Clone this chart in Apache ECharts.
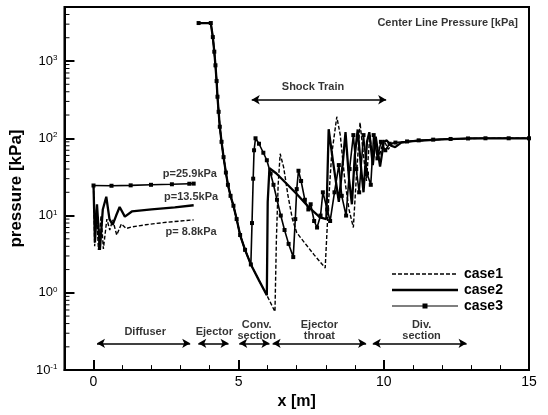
<!DOCTYPE html>
<html><head><meta charset="utf-8">
<script src="https://cdn.jsdelivr.net/npm/echarts@6/dist/echarts.min.js"></script>
<style>html,body{margin:0;padding:0;background:#fff}#c{width:548px;height:415px}</style>
</head><body><div id="c"></div>
<script>
// ---------- data ----------
const xTickValues = [0, 5, 10, 15];
const yMinorTickValues = [0.2,0.3,0.4,0.5,0.6,0.7,0.8,0.9,2,3,4,5,6,7,8,9,20,30,40,50,60,70,80,90,200,300,400,500,600,700,800,900,2000,3000,4000];

// common ejector/nozzle descent (all cases)
const descent = [[3.62,3100],[4.04,3100],[4.11,2040],[4.16,1320],[4.2,880],[4.24,550],[4.27,345],[4.31,220],[4.35,141],[4.41,90],[4.48,57],[4.56,36],[4.63,25],[4.72,18],[4.82,13.4],[4.93,9],[5.05,5.6],[5.22,3.6],[5.42,2.33]];

const case1Diffuser = [[0,25],[0.04,4],[0.1,12],[0.17,3.6],[0.26,10],[0.34,3.7],[0.46,9],[0.56,6.5],[0.66,8.8],[0.8,5.6],[0.96,7.8],[1.12,6.8],[1.3,7.1],[1.8,7.6],[2.4,8.1],[3.0,8.5],[3.45,8.8]];
const case1Main = [[5.7,1.45],[5.97,0.93],[6.25,0.57],[6.3,5],[6.36,25],[6.43,63],[6.55,42],[6.7,18],[6.85,9],[7.0,6],[7.3,4.3],[7.6,3.1],[7.98,2.1],[8.08,12],[8.2,60],[8.38,190],[8.5,110],[8.65,30],[8.8,12],[8.95,7],[9.05,30],[9.18,160],[9.3,60],[9.4,28],[9.52,110],[9.62,50],[9.73,95],[9.85,60],[10.0,95],[10.15,72],[10.3,86],[10.6,89],[11,92],[12,97],[13,99.5],[14,100],[15,100]];

const case2Diffuser = [[0,25],[0.05,4.5],[0.12,14],[0.22,3.6],[0.32,12],[0.44,17.5],[0.55,9],[0.66,7.6],[0.78,10],[0.9,12.9],[1.08,9.7],[1.32,11.3],[2.0,12],[2.8,12.8],[3.45,13.6]];
const case2Main = [[5.7,1.45],[5.97,0.93],[6.0,15],[6.06,41],[6.3,35],[6.6,27],[7.0,19],[7.4,13],[7.8,9.5],[8.02,9],[8.1,131],[8.25,50],[8.45,15],[8.6,55],[8.68,120],[8.8,30],[8.9,14],[9.0,60],[9.1,130],[9.22,40],[9.3,20],[9.42,90],[9.5,120],[9.62,45],[9.72,105],[9.87,43],[10.0,90],[10.1,94],[10.25,80],[10.39,77],[10.6,88],[11,92],[12,97],[13,99.5],[14,100],[15,100]];

const case3Diffuser = [[0,24.5],[0.62,24.3],[1.28,24.6],[1.98,25],[2.7,25.4],[3.3,25.8],[3.45,25.9]];
const case3Main = [[5.46,8],[5.5,30],[5.53,70],[5.58,100],[5.7,85],[5.85,65],[5.97,52],[6.1,35],[6.2,25],[6.32,16],[6.45,10],[6.58,6.5],[6.72,4.3],[6.88,2.9],[6.95,9],[7.0,22],[7.06,38],[7.15,28],[7.28,16],[7.4,12],[7.48,14],[7.6,8.5],[7.7,7],[7.82,10],[7.9,20],[8.05,12],[8.15,8.5],[8.3,20],[8.45,45],[8.55,18],[8.7,10],[8.82,40],[8.95,110],[9.05,40],[9.15,20],[9.3,110],[9.42,35],[9.55,25],[9.65,110],[9.78,55],[9.9,90],[10.05,70],[10.2,85],[10.4,88],[10.8,91],[11.2,94],[11.7,96],[12.3,98],[12.9,99.5],[13.5,100],[14.3,100],[15,100]];

// annotations: [x, y, text]
const textNotes = [
  [3.32, 35, 'p=25.9kPa'],
  [3.36, 17.6, 'p=13.5kPa'],
  [3.36, 6.2, 'p= 8.8kPa'],
  [7.56, 460, 'Shock Train'],
  [1.78, 0.315, 'Diffuser'],
  [4.16, 0.315, 'Ejector'],
  [5.62, 0.33, 'Conv.\nsection'],
  [7.78, 0.33, 'Ejector\nthroat'],
  [11.3, 0.33, 'Div.\nsection']
];
// double arrows: [x1, x2, y]
const arrowSpans = [
  [5.45, 10.08, 315],
  [0.12, 3.33, 0.222],
  [3.61, 4.65, 0.222],
  [5.02, 6.06, 0.222],
  [6.17, 9.39, 0.222],
  [9.62, 12.85, 0.222]
];

const case1 = case1Diffuser.concat([[3.53, null]], descent, case1Main);
const case2 = case2Diffuser.concat([[3.53, null]], descent, case2Main);
const case3 = case3Diffuser.concat([[3.53, null]], descent, case3Main);

// ---------- legend icons ----------
function iconPath(parts) {
  return 'path://M0 0L0.01 0L0 0.01Z M66 8L65.99 8L66 7.99Z ' + parts.map(r =>
    `M${r[0]} ${r[1]}L${r[2]} ${r[1]}L${r[2]} ${r[3]}L${r[0]} ${r[3]}Z`).join(' ');
}
const dashParts = [];
for (let i = 0; i < 11; i++) dashParts.push([i * 6, 3.3, i * 6 + 4, 4.7]);
const icon1 = iconPath(dashParts);
const icon2 = iconPath([[0, 2.7, 66, 5.3]]);
const icon3 = iconPath([[0, 3.4, 66, 4.6], [30.5, 1.5, 35.5, 6.5]]);

const FONT = 'Liberation Sans, Arial, Helvetica, sans-serif';
const chart = echarts.init(document.getElementById('c'), null, {renderer: 'canvas'});
const X_MIN = -1, X_MAX = 15;

chart.setOption({
  animation: false,
  backgroundColor: '#fff',
  textStyle: {fontFamily: FONT, color: '#000'},
  grid: {left: 64, right: 19, top: 7, bottom: 37, show: true, borderColor: '#000', borderWidth: 2, containLabel: false},
  legend: {
    orient: 'vertical', left: 387, top: 261, itemWidth: 66, itemHeight: 8, itemGap: 0,
    selectedMode: false,
    itemStyle: {borderWidth: 0},
    textStyle: {fontFamily: FONT, fontWeight: 'bold', fontSize: 14, color: '#000', lineHeight: 16, padding: [0, 0, 0, 1]},
    data: [{name: 'case1', icon: icon1}, {name: 'case2', icon: icon2}, {name: 'case3', icon: icon3}]
  },
  xAxis: [{
    type: 'value', min: X_MIN, max: X_MAX, position: 'bottom',
    axisLine: {show: true, onZero: false, lineStyle: {color: '#000', width: 2}},
    axisTick: {show: true, inside: true, length: 10, customValues: xTickValues, lineStyle: {color: '#000', width: 2}},
    axisLabel: {show: true, customValues: xTickValues, fontSize: 14, color: '#000', margin: 5, fontFamily: FONT},
    splitLine: {show: false},
    name: 'x [m]', nameLocation: 'middle', nameGap: 22,
    nameTextStyle: {fontFamily: FONT, fontWeight: 'bold', fontSize: 16, color: '#000'}
  }, {
    type: 'value', min: X_MIN, max: X_MAX, interval: 1, position: 'bottom',
    axisLine: {show: false, onZero: false},
    axisTick: {show: true, inside: true, length: 5, lineStyle: {color: '#000', width: 1}},
    axisLabel: {show: false},
    splitLine: {show: false}
  }],
  yAxis: {
    type: 'log', logBase: 10, min: 0.1, max: 5000,
    axisLine: {show: true, onZero: false, lineStyle: {color: '#000', width: 2}},
    axisTick: {show: true, inside: true, length: 10, lineStyle: {color: '#000', width: 2}},
    axisLabel: {
      fontFamily: FONT, color: '#000', margin: 7,
      formatter: v => {
        const l = Math.log10(v), e = Math.round(l);
        if (Math.abs(l - e) > 1e-6) return '';
        return '{b|10}{s|' + e + '}';
      },
      rich: {b: {fontSize: 13, fontFamily: FONT, color: '#000'}, s: {fontSize: 8, fontFamily: FONT, color: '#000', verticalAlign: 'top', padding: [0, 0, 6, 0]}}
    },
    splitLine: {show: false},
    name: 'pressure [kPa]', nameLocation: 'middle', nameGap: 31, nameRotate: 90,
    nameTextStyle: {fontFamily: FONT, fontWeight: 'bold', fontSize: 17, color: '#000'}
  },
  series: [
    {name: 'case1', type: 'line', data: case1, showSymbol: false, symbol: 'none', color: '#000', silent: true, z: 3,
     lineStyle: {color: '#000', width: 1.4, type: [4, 2]}},
    {name: 'case2', type: 'line', data: case2, showSymbol: false, symbol: 'none', color: '#000', silent: true, z: 4,
     lineStyle: {color: '#000', width: 2.3}},
    {name: 'case3', type: 'line', data: case3, showSymbol: true, symbol: 'rect', symbolSize: 4, color: '#000', silent: true, z: 5,
     lineStyle: {color: '#000', width: 1.6}, itemStyle: {color: '#000', borderWidth: 0}},
    {name: 'minorY', type: 'custom', silent: true, z: 6, clip: false,
     data: yMinorTickValues.map(v => [X_MIN, v]),
     renderItem: (params, api) => {
       const p = api.coord([api.value(0), api.value(1)]);
       return {type: 'line', shape: {x1: p[0], y1: p[1], x2: p[0] + 5, y2: p[1]}, style: {stroke: '#000', lineWidth: 1}};
     }},
    {name: 'notes', type: 'scatter', silent: true, symbolSize: 0, z: 7,
     data: textNotes.map(n => ({value: [n[0], n[1]], name: n[2]})),
     label: {show: true, position: 'inside', formatter: p => p.name, fontFamily: FONT, fontWeight: 'bold', fontSize: 11, lineHeight: 11, color: '#000'},
     markLine: {
       silent: true, symbol: ['arrow', 'arrow'], symbolSize: [7, 8], label: {show: false},
       lineStyle: {color: '#000', width: 1.5, type: 'solid'},
       data: arrowSpans.map(a => [{coord: [a[0], a[2]]}, {coord: [a[1], a[2]]}])
     }},
    {name: 'title', type: 'scatter', silent: true, symbolSize: 0, z: 7,
     data: [{value: [15, 3000], name: 'Center Line Pressure [kPa]'}],
     label: {show: true, position: 'left', distance: 11, offset: [0, -1], formatter: p => p.name, fontFamily: FONT, fontWeight: 'bold', fontSize: 11, color: '#000'}}
  ]
});
</script>
</body></html>
